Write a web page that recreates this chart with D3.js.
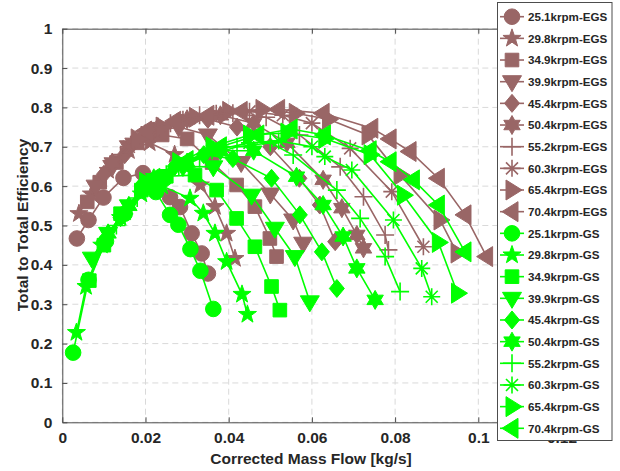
<!DOCTYPE html>
<html>
<head>
<meta charset="utf-8">
<script src="https://cdn.jsdelivr.net/npm/d3@7"></script>
<style>
body { margin: 0; background: #fff; }
text { font-family: "Liberation Sans", Arial, sans-serif; font-weight: bold; fill: #262626; }
</style>
</head>
<body>
<svg id="canvas" width="620" height="471"></svg>
<script>
// tick labels
let xTicks = [0, 0.02, 0.04, 0.06, 0.08, 0.1, 0.12]
let xTickLabels = ['0', '0.02', '0.04', '0.06', '0.08', '0.1', '0.12']
let yTicks = [0, 0.1, 0.2, 0.3, 0.4, 0.5, 0.6, 0.7, 0.8, 0.9, 1]
let yTickLabels = ['0', '0.1', '0.2', '0.3', '0.4', '0.5', '0.6', '0.7', '0.8', '0.9', '1']

let speeds = ['25.1', '29.8', '34.9', '39.9', '45.4', '50.4', '55.2', '60.3', '65.4', '70.4']
let markers = ['circle', 'pentagram', 'square', 'down', 'diamond', 'hexagram', 'plus', 'asterisk', 'right', 'left']

// EGS series  [mass flow, efficiency]
let egs251 = [[0.0035,0.467],[0.0063,0.514],[0.0099,0.571],[0.0147,0.621],[0.0194,0.633],[0.0235,0.612],[0.0259,0.572],[0.0283,0.547],[0.0311,0.48],[0.0335,0.429],[0.035,0.378]]
let egs298 = [[0.004,0.53],[0.007,0.58],[0.011,0.64],[0.016,0.69],[0.021,0.71],[0.027,0.68],[0.0332,0.603],[0.0367,0.548],[0.0395,0.48],[0.0415,0.416]]
let egs349 = [[0.006,0.56],[0.009,0.61],[0.013,0.66],[0.018,0.71],[0.024,0.73],[0.03,0.72],[0.036,0.66],[0.0419,0.603],[0.0463,0.548],[0.0499,0.467],[0.0515,0.421]]
let egs399 = [[0.008,0.6],[0.012,0.65],[0.016,0.7],[0.022,0.74],[0.028,0.75],[0.035,0.73],[0.043,0.66],[0.05,0.58],[0.0555,0.514],[0.0579,0.455]]
let egs454 = [[0.01,0.63],[0.015,0.68],[0.021,0.73],[0.028,0.76],[0.035,0.77],[0.042,0.75],[0.05,0.7],[0.057,0.62],[0.0619,0.552],[0.0656,0.459]]
let egs504 = [[0.012,0.66],[0.017,0.71],[0.023,0.75],[0.03,0.77],[0.038,0.78],[0.046,0.76],[0.054,0.71],[0.0627,0.616],[0.0672,0.544],[0.0708,0.476],[0.0724,0.442]]
let egs552 = [[0.014,0.68],[0.019,0.73],[0.026,0.76],[0.033,0.78],[0.041,0.785],[0.049,0.775],[0.057,0.73],[0.0668,0.649],[0.0724,0.573],[0.0776,0.476],[0.0784,0.438]]
let egs603 = [[0.016,0.7],[0.022,0.74],[0.029,0.77],[0.037,0.785],[0.045,0.79],[0.053,0.78],[0.06,0.76],[0.0692,0.696],[0.0792,0.586],[0.0868,0.446]]
let egs654 = [[0.018,0.72],[0.024,0.75],[0.032,0.775],[0.04,0.79],[0.048,0.795],[0.056,0.785],[0.064,0.77],[0.0735,0.73],[0.0812,0.628],[0.0908,0.514],[0.0949,0.43]]
let egs704 = [[0.02,0.74],[0.027,0.765],[0.035,0.78],[0.043,0.79],[0.052,0.795],[0.0627,0.785],[0.0744,0.747],[0.0788,0.72],[0.0836,0.688],[0.0904,0.62],[0.0968,0.527],[0.102,0.421]]

// GS series
let gs251 = [[0.0026,0.177],[0.0063,0.362],[0.0105,0.46],[0.015,0.53],[0.0195,0.6],[0.0225,0.585],[0.0259,0.527],[0.0279,0.502],[0.0308,0.44],[0.0332,0.385],[0.0363,0.288]]
let gs298 = [[0.0034,0.228],[0.0057,0.345],[0.0095,0.45],[0.014,0.52],[0.019,0.58],[0.024,0.6],[0.0307,0.569],[0.0339,0.531],[0.0367,0.48],[0.0395,0.408],[0.0432,0.325],[0.0445,0.274]]
let gs349 = [[0.0065,0.36],[0.01,0.45],[0.014,0.53],[0.019,0.59],[0.025,0.625],[0.0319,0.628],[0.0371,0.59],[0.0419,0.518],[0.0463,0.446],[0.0503,0.345],[0.0523,0.285]]
let gs399 = [[0.0071,0.417],[0.011,0.48],[0.016,0.55],[0.022,0.61],[0.029,0.65],[0.0363,0.649],[0.0455,0.577],[0.0511,0.493],[0.0559,0.421],[0.0595,0.306]]
let gs454 = [[0.01,0.46],[0.014,0.52],[0.02,0.6],[0.027,0.65],[0.034,0.68],[0.041,0.67],[0.0503,0.62],[0.0571,0.527],[0.0624,0.433],[0.066,0.34]]
let gs504 = [[0.011,0.48],[0.016,0.55],[0.022,0.62],[0.03,0.66],[0.038,0.69],[0.046,0.69],[0.0563,0.624],[0.0627,0.552],[0.0675,0.472],[0.0708,0.391],[0.0752,0.311]]
let gs552 = [[0.013,0.5],[0.018,0.57],[0.025,0.63],[0.033,0.67],[0.042,0.7],[0.05,0.71],[0.0555,0.679],[0.066,0.59],[0.0716,0.518],[0.0776,0.421],[0.0812,0.332]]
let gs603 = [[0.015,0.53],[0.02,0.6],[0.028,0.65],[0.036,0.69],[0.045,0.71],[0.052,0.715],[0.06,0.7],[0.0631,0.675],[0.0696,0.641],[0.0796,0.514],[0.0864,0.391],[0.0888,0.319]]
let gs654 = [[0.02,0.61],[0.028,0.66],[0.036,0.7],[0.045,0.73],[0.054,0.735],[0.0631,0.721],[0.074,0.68],[0.082,0.577],[0.0904,0.457],[0.095,0.328]]
let gs704 = [[0.022,0.62],[0.03,0.665],[0.038,0.7],[0.047,0.73],[0.055,0.745],[0.063,0.73],[0.074,0.69],[0.0788,0.662],[0.0844,0.616],[0.0904,0.552],[0.0968,0.433]]

let egsSeries = [egs251, egs298, egs349, egs399, egs454, egs504, egs552, egs603, egs654, egs704]
let gsSeries = [gs251, gs298, gs349, gs399, gs454, gs504, gs552, gs603, gs654, gs704]

let brown = '#996666'
let green = '#00ff00'

let svg = d3.select('#canvas')

let pLeft = 62.3, pRight = 561.5, pTop = 28.7, pBottom = 422.3
let x = d3.scaleLinear().domain([0, 0.12]).range([pLeft, pRight])
let y = d3.scaleLinear().domain([0, 1]).range([pBottom, pTop])

// marker shapes, centred on 0,0
let starPath = (n, R, r) => {
    let pts = []
    for (let i = 0; i < n * 2; i++) {
        let a = -Math.PI / 2 + i * Math.PI / n
        let rad = i % 2 === 0 ? R : r
        pts.push([rad * Math.cos(a), rad * Math.sin(a)])
    }
    return 'M' + pts.map(p => p[0].toFixed(2) + ',' + p[1].toFixed(2)).join('L') + 'Z'
}
let markerPath = (type) => {
    if (type === 'circle') return 'M-7.8,0A7.8,7.8 0 1,0 7.8,0A7.8,7.8 0 1,0 -7.8,0Z'
    if (type === 'pentagram') return starPath(5, 9.5, 3.8)
    if (type === 'square') return 'M-6.8,-6.8H6.8V6.8H-6.8Z'
    if (type === 'down') return 'M-9.5,-6H9.5L0,10Z'
    if (type === 'diamond') return 'M0,-9L7.5,0L0,9L-7.5,0Z'
    if (type === 'hexagram') return starPath(6, 9.5, 5.4)
    if (type === 'plus') return 'M-9,0H9M0,-9V9'
    if (type === 'asterisk') return 'M-8.5,0H8.5M0,-8.5V8.5M-6,-6L6,6M-6,6L6,-6'
    if (type === 'right') return 'M-6,-10L-6,10L10,0Z'
    if (type === 'left') return 'M6,-10L6,10L-10,0Z'
}
let isOpen = (type) => type === 'plus' || type === 'asterisk'

// grid
let grid = svg.append('g')
grid.selectAll('.gx').data(xTicks).enter().append('line')
    .attr('x1', d => x(d)).attr('x2', d => x(d))
    .attr('y1', pTop).attr('y2', pBottom)
    .attr('stroke', '#d9d9d9').attr('stroke-width', 1).attr('stroke-dasharray', '6,4')
grid.selectAll('.gy').data(yTicks).enter().append('line')
    .attr('x1', pLeft).attr('x2', pRight)
    .attr('y1', d => y(d)).attr('y2', d => y(d))
    .attr('stroke', '#d9d9d9').attr('stroke-width', 1).attr('stroke-dasharray', '6,4')

// axes (ticks pointing inward, box around)
let axisColor = '#4d4d4d'
let xAxis = svg.append('g').attr('transform', `translate(0,${pBottom})`)
    .call(d3.axisBottom(x).tickValues(xTicks).tickFormat((d, i) => xTickLabels[i]).tickSizeInner(-5).tickSizeOuter(0).tickPadding(10))
let yAxis = svg.append('g').attr('transform', `translate(${pLeft},0)`)
    .call(d3.axisLeft(y).tickValues(yTicks).tickFormat((d, i) => yTickLabels[i]).tickSizeInner(-5).tickSizeOuter(0).tickPadding(10))
let xTop = svg.append('g').attr('transform', `translate(0,${pTop})`)
    .call(d3.axisTop(x).tickValues(xTicks).tickFormat('').tickSizeInner(-5).tickSizeOuter(0))
let yRight = svg.append('g').attr('transform', `translate(${pRight},0)`)
    .call(d3.axisRight(y).tickValues(yTicks).tickFormat('').tickSizeInner(-5).tickSizeOuter(0))
;[xAxis, yAxis, xTop, yRight].forEach(a => {
    a.selectAll('path').attr('stroke', axisColor)
    a.selectAll('line').attr('stroke', axisColor)
    a.selectAll('text').attr('font-size', 15.5).attr('font-family', '"Liberation Sans", Arial, sans-serif').attr('font-weight', 'bold').attr('fill', '#262626')
})
xAxis.selectAll('text').attr('dy', '0.71em')

// axis titles
svg.append('text').attr('x', 311).attr('y', 464).attr('text-anchor', 'middle').attr('font-size', 15.5)
    .text('Corrected Mass Flow [kg/s]')
svg.append('text').attr('transform', 'translate(28,225) rotate(-90)').attr('text-anchor', 'middle').attr('font-size', 15.5)
    .text('Total to Total Efficiency')

// series
let line = d3.line().x(d => x(d[0])).y(d => y(d[1]))
let drawSeries = (data, i, color) => {
    let g = svg.append('g')
    g.append('path').attr('d', line(data)).attr('fill', 'none').attr('stroke', color).attr('stroke-width', 1.6)
    g.selectAll('path.m').data(data).enter().append('path').attr('class', 'm')
        .attr('d', markerPath(markers[i]))
        .attr('transform', d => `translate(${x(d[0])},${y(d[1])})`)
        .attr('fill', isOpen(markers[i]) ? 'none' : color)
        .attr('stroke', color)
        .attr('stroke-width', isOpen(markers[i]) ? 1.6 : 1)
}
egsSeries.forEach((s, i) => drawSeries(s, i, brown))
gsSeries.forEach((s, i) => drawSeries(s, i, green))

// legend
let legend = svg.append('g')
legend.append('rect').attr('x', 497.5).attr('y', 2.5).attr('width', 114.5).attr('height', 438)
    .attr('fill', '#fff').attr('stroke', axisColor).attr('stroke-width', 1)
let entries = []
speeds.forEach((s, i) => entries.push({ label: s + 'krpm-EGS', color: brown, m: markers[i] }))
speeds.forEach((s, i) => entries.push({ label: s + 'krpm-GS', color: green, m: markers[i] }))
let ly = d3.scaleLinear().domain([0, entries.length - 1]).range([16.7, 428.3])
let item = legend.selectAll('g.item').data(entries).enter().append('g')
    .attr('transform', (d, i) => `translate(0,${ly(i)})`)
item.append('line').attr('x1', 500).attr('x2', 524).attr('y1', 0).attr('y2', 0)
    .attr('stroke', d => d.color).attr('stroke-width', 1.6)
item.append('path').attr('d', d => markerPath(d.m)).attr('transform', 'translate(512,0)')
    .attr('fill', d => isOpen(d.m) ? 'none' : d.color).attr('stroke', d => d.color)
    .attr('stroke-width', d => isOpen(d.m) ? 1.6 : 1)
item.append('text').attr('x', 528).attr('y', 4.2).attr('font-size', 11.6).text(d => d.label)
</script>
</body>
</html>
